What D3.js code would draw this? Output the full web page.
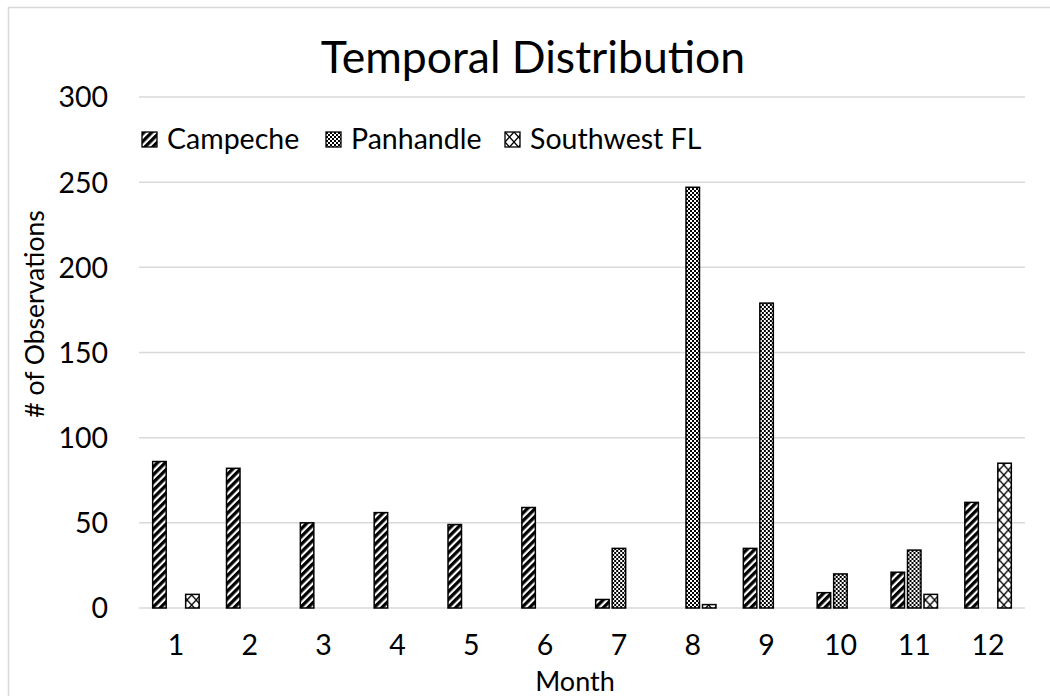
<!DOCTYPE html>
<html><head><meta charset="utf-8">
<script src="https://cdn.jsdelivr.net/npm/d3@7"></script>
<style>body{margin:0;background:#fff}svg{display:block}</style>
</head><body>
<script>
const months = ["1","2","3","4","5","6","7","8","9","10","11","12"];
const seriesNames = ["Campeche","Panhandle","Southwest FL"];
const campeche = [86, 82, 50, 56, 49, 59, 5, 0, 35, 9, 21, 62];
const panhandle = [0, 0, 0, 0, 0, 0, 35, 247, 179, 20, 34, 0];
const southwestFL = [8, 0, 0, 0, 0, 0, 0, 2, 0, 0, 8, 85];
const yTicks = [0, 50, 100, 150, 200, 250, 300];
const titleText = "Temporal Distribution";
const xTitle = "Month";
const yTitle = "# of Observations";

const values = [campeche, panhandle, southwestFL];
const W = 1050, H = 696;
const FONT = "Lato, 'Open Sans', sans-serif";
const FS = 28.5;
const svg = d3.select("body").append("svg").attr("width", W).attr("height", H);

// patterns
const defs = svg.append("defs");
const p1 = defs.append("pattern").attr("id","pat0").attr("patternUnits","userSpaceOnUse")
  .attr("width",5.5).attr("height",5.5).attr("patternTransform","rotate(45)");
p1.append("rect").attr("width",5.5).attr("height",5.5).attr("fill","#fff");
p1.append("rect").attr("width",3.3).attr("height",5.5).attr("fill","#000");
const p2 = defs.append("pattern").attr("id","pat1").attr("patternUnits","userSpaceOnUse")
  .attr("width",4).attr("height",4);
p2.append("rect").attr("width",4).attr("height",4).attr("fill","#fff");
p2.append("rect").attr("width",2).attr("height",2).attr("fill","#000");
p2.append("rect").attr("x",2).attr("y",2).attr("width",2).attr("height",2).attr("fill","#000");
const p3 = defs.append("pattern").attr("id","pat2").attr("patternUnits","userSpaceOnUse")
  .attr("width",9).attr("height",10);
p3.append("rect").attr("width",9).attr("height",10).attr("fill","#fff");
p3.append("path").attr("d","M0,0L9,10M9,0L0,10").attr("stroke","#000").attr("stroke-width",1.3).attr("fill","none");

// chart border
svg.append("rect").attr("x",8.5).attr("y",7.5).attr("width",W).attr("height",H)
  .attr("fill","none").attr("stroke","#d9d9d9").attr("stroke-width",1.5);

const x0 = d3.scaleBand().domain(months).range([139, 1025]).paddingInner(0.33).paddingOuter(0.165);
const x1 = d3.scaleBand().domain(seriesNames).range([0, x0.bandwidth()]);
const y = d3.scaleLinear().domain([0, 300]).range([608, 97]);

// gridlines
svg.append("g").selectAll("line").data(yTicks).join("line")
  .attr("x1",139).attr("x2",1025).attr("y1",d=>y(d)).attr("y2",d=>y(d))
  .attr("stroke","#d9d9d9").attr("stroke-width",1.5);

// y axis labels
const yAxis = d3.axisLeft(y).tickValues(yTicks).tickSize(0).tickPadding(0);
const gy = svg.append("g").attr("transform","translate(108,0)").call(yAxis);
gy.select(".domain").remove();
gy.selectAll("text").attr("font-family",FONT).attr("font-size",FS).attr("fill","#000").attr("dy","0.35em");

// x axis labels
const xAxis = d3.axisBottom(x0).tickSize(0).tickPadding(0);
const gx = svg.append("g").attr("transform","translate(0,634)").call(xAxis);
gx.select(".domain").remove();
gx.selectAll("text").attr("font-family",FONT).attr("font-size",FS).attr("fill","#000").attr("dy","0.72em");

// bars
const groups = svg.append("g").selectAll("g").data(months).join("g")
  .attr("transform", d => `translate(${x0(d)},0)`);
groups.selectAll("rect").data((m, i) => seriesNames.map((s, j) => ({s, j, v: values[j][i]})).filter(d => d.v > 0))
  .join("rect")
  .attr("x", d => x1(d.s) + 1.5)
  .attr("width", x1.bandwidth() - 3)
  .attr("y", d => y(d.v))
  .attr("height", d => y(0) - y(d.v))
  .attr("fill", d => `url(#pat${d.j})`)
  .attr("stroke", "#000").attr("stroke-width", 1.5);

// legend
const legendX = [142, 326, 505];
const lg = svg.append("g").selectAll("g").data(seriesNames).join("g")
  .attr("transform", (d, i) => `translate(${legendX[i]},132)`);
lg.append("rect").attr("width",15).attr("height",15).attr("fill",(d,i)=>`url(#pat${i})`)
  .attr("stroke","#000").attr("stroke-width",1.3);
lg.append("text").attr("x",25).attr("y",7.5).attr("dy","0.35em")
  .attr("font-family",FONT).attr("font-size",FS).text(d => d);

// titles
svg.append("text").attr("x",533).attr("y",73).attr("text-anchor","middle")
  .attr("font-family",FONT).attr("font-size",44.5).text(titleText);
svg.append("text").attr("x",575).attr("y",691).attr("text-anchor","middle")
  .attr("font-family",FONT).attr("font-size",27).text(xTitle);
svg.append("text").attr("transform","translate(44,314) rotate(-90)").attr("text-anchor","middle")
  .attr("font-family",FONT).attr("font-size",26.5).text(yTitle);
</script>
</body></html>
